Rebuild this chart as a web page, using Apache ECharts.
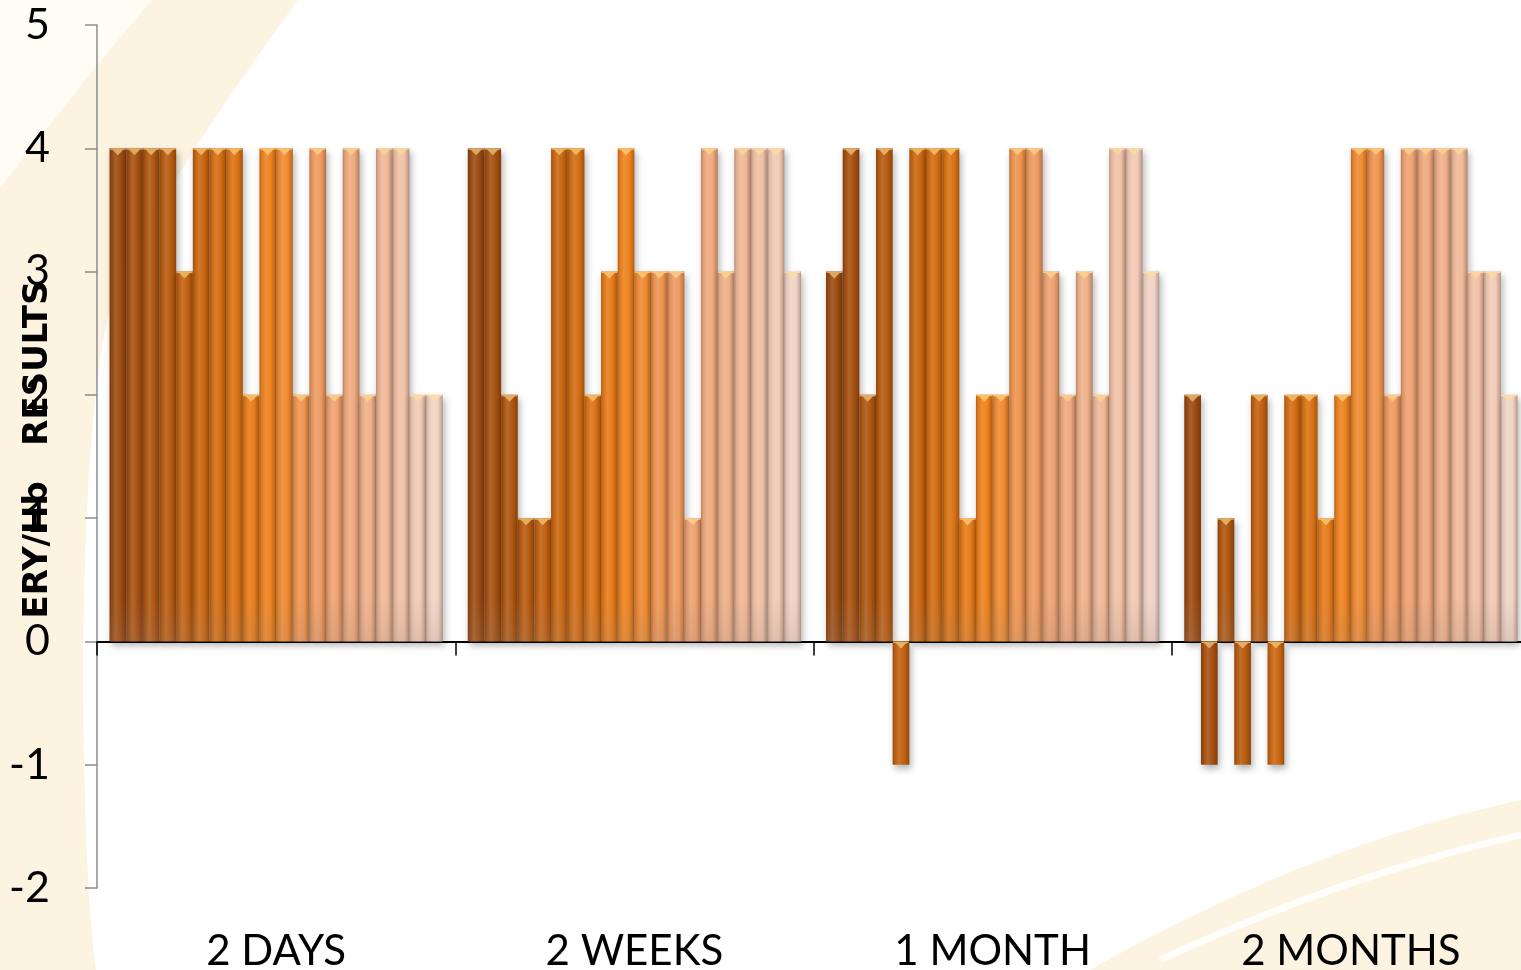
<!DOCTYPE html>
<html>
<head>
<meta charset="utf-8">
<title>ERY/Hb results</title>
<script src="https://cdn.jsdelivr.net/npm/echarts@6/dist/echarts.min.js"></script>
<style>
  html, body { margin: 0; padding: 0; background: #ffffff; }
  #chart { width: 1521px; height: 970px; }
</style>
</head>
<body>
<div id="chart"></div>
<script>
// Sampling times on the category axis
const categories = ['2 DAYS', '2 WEEKS', '1 MONTH', '2 MONTHS'];

// One score per subject (20 subjects) at each sampling time
const days2   = [4, 4, 4, 4, 3, 4, 4, 4, 2, 4, 4, 2, 4, 2, 4, 2, 4, 4, 2, 2];
const weeks2  = [4, 4, 2, 1, 1, 4, 4, 2, 3, 4, 3, 3, 3, 1, 4, 3, 4, 4, 4, 3];
const month1  = [3, 4, 2, 4, -1, 4, 4, 4, 1, 2, 2, 4, 4, 3, 2, 3, 2, 4, 4, 3];
const months2 = [2, -1, 1, -1, 2, -1, 2, 2, 1, 2, 4, 4, 2, 4, 4, 4, 4, 3, 3, 2];

// Value axis range
const yMin = -2;
const yMax = 5;
const yStep = 1;

const groups = [days2, weeks2, month1, months2];
const subjectCount = days2.length;

// Base colour of each subject's bars, dark brown through orange to pale peach
const barColors = [
  '#9a4a10', '#a44f10', '#ad5510', '#b65a10', '#c0600f',
  '#c96610', '#d26c12', '#da7214', '#e67b18', '#ee821e',
  '#ef8a30', '#ef9450', '#ee9b62', '#eea272', '#eea97f',
  '#efb18c', '#efb99a', '#f0c2a9', '#f1cbb8', '#f1d5c8'
];

function hexToRgb(h) {
  const n = parseInt(h.slice(1), 16);
  return [(n >> 16) & 255, (n >> 8) & 255, n & 255];
}
function mix(h, target, t) {
  const a = hexToRgb(h);
  const r = a.map((v, i) => Math.round(v + (target[i] - v) * t));
  return 'rgb(' + r.join(',') + ')';
}
const darken = (h, t) => mix(h, [40, 15, 0], t);
const lighten = (h, t) => mix(h, [255, 240, 215], t);

function linear(x2, y2, stops) {
  return { type: 'linear', x: 0, y: 0, x2: x2, y2: y2, colorStops: stops };
}

// Horizontal shading that gives each bar a rounded, cylindrical look
function cylinderFill(h) {
  return linear(1, 0, [
    { offset: 0, color: darken(h, 0.28) },
    { offset: 0.12, color: darken(h, 0.08) },
    { offset: 0.38, color: lighten(h, 0.14) },
    { offset: 0.7, color: h },
    { offset: 0.92, color: darken(h, 0.2) },
    { offset: 1, color: darken(h, 0.35) }
  ]);
}

const barSeries = barColors.map((c, s) => ({
  name: 'S' + (s + 1),
  type: 'bar',
  xAxisIndex: 0,
  barGap: '0%',
  barCategoryGap: '7%',
  data: groups.map(g => g[s]),
  itemStyle: {
    color: cylinderFill(c),
    shadowBlur: 7,
    shadowOffsetX: 2,
    shadowOffsetY: 4,
    shadowColor: 'rgba(0,0,0,0.3)'
  },
  z: 2
}));

// Bevelled cap and base shading drawn on top of each bar
const capData = [];
for (let s = 0; s < subjectCount; s++) {
  for (let c = 0; c < groups.length; c++) {
    capData.push([c, groups[c][s], s]);
  }
}

const capSeries = {
  type: 'custom',
  xAxisIndex: 0,
  silent: true,
  z: 4,
  data: capData,
  encode: { x: 0, y: 1 },
  renderItem: function (params, api) {
    const cat = api.value(0);
    const v = api.value(1);
    const s = api.value(2);
    const base = api.coord([cat, 0]);
    const top = api.coord([cat, Math.max(v, 0)]);
    const band = api.size([1, 0])[0];
    const gap = band * 0.07;
    const bw = (band - gap) / subjectCount;
    const x0 = base[0] - band / 2 + gap / 2 + s * bw;
    const cx = x0 + bw / 2;
    const y = top[1];
    const c = barColors[s];
    const children = [
      {
        type: 'polygon',
        shape: { points: [[x0 + 0.5, y], [x0 + bw - 0.5, y], [x0 + bw - 0.5, y + 1.5], [cx + bw * 0.32, y + 1.5], [cx, y + 7], [cx - bw * 0.32, y + 1.5], [x0 + 0.5, y + 1.5]] },
        style: { fill: mix(c, [255, 226, 150], 0.62) }
      }
    ];
    if (v > 0) {
      children.push({
        type: 'rect',
        shape: { x: x0, y: base[1] - 45, width: bw, height: 45 },
        style: {
          fill: linear(0, 1, [
            { offset: 0, color: 'rgba(150,128,118,0)' },
            { offset: 1, color: 'rgba(150,128,118,0.2)' }
          ])
        }
      });
    }
    return { type: 'group', children: children };
  }
};

// Soft backdrop swooshes, traced as sampled cubic curves
function cubic(p0, p1, p2, p3, n) {
  const pts = [];
  for (let i = 0; i <= n; i++) {
    const t = i / n, u = 1 - t;
    pts.push([
      u * u * u * p0[0] + 3 * u * u * t * p1[0] + 3 * u * t * t * p2[0] + t * t * t * p3[0],
      u * u * u * p0[1] + 3 * u * u * t * p1[1] + 3 * u * t * t * p2[1] + t * t * t * p3[1]
    ]);
  }
  return pts;
}
const cream = '#fcf3e1';
const leftSwoosh = [[0, 0]]
  .concat(cubic([298, 0], [240, 80], [160, 190], [112, 300], 24))
  .concat(cubic([112, 300], [88, 380], [80, 600], [84, 760], 24))
  .concat(cubic([84, 760], [86, 860], [90, 930], [96, 970], 12))
  .concat([[0, 970]]);
const cornerLight = [[0, 0], [152, 0]].concat(cubic([152, 0], [100, 60], [50, 125], [0, 188], 20));
const rightSwoosh = cubic([1090, 970], [1230, 890], [1380, 830], [1521, 800], 30).concat([[1521, 970]]);
const rightStripe = cubic([1160, 960], [1290, 900], [1410, 860], [1521, 835], 30);

const chart = echarts.init(document.getElementById('chart'), null, { renderer: 'canvas' });
chart.setOption({
  backgroundColor: '#ffffff',
  animation: false,
  graphic: [
    { type: 'polygon', z: -10, silent: true, shape: { points: leftSwoosh }, style: { fill: cream } },
    { type: 'polygon', z: -9, silent: true, shape: { points: cornerLight }, style: { fill: '#fffcf6' } },
    { type: 'polygon', z: -10, silent: true, shape: { points: rightSwoosh }, style: { fill: cream } },
    { type: 'polyline', z: -9, silent: true, shape: { points: rightStripe }, style: { fill: null, stroke: 'rgba(255,255,255,0.85)', lineWidth: 7 } }
  ],
  grid: { left: 97, top: 25, width: 1433, height: 863, containLabel: false, outerBoundsMode: 'none' },
  xAxis: [
    {
      type: 'category',
      data: categories,
      position: 'bottom',
      boundaryGap: true,
      axisLine: { show: true, onZero: true, lineStyle: { color: '#000000', width: 2 } },
      axisTick: { show: true, length: 14, lineStyle: { color: '#000000', width: 1.5 } },
      axisLabel: { show: false },
      splitLine: { show: false }
    },
    {
      type: 'category',
      data: categories,
      position: 'bottom',
      boundaryGap: true,
      axisLine: { show: false, onZero: false },
      axisTick: { show: false },
      axisLabel: { fontFamily: 'Lato', fontSize: 42, color: '#000000', margin: 42 },
      splitLine: { show: false }
    }
  ],
  yAxis: {
    type: 'value',
    min: yMin,
    max: yMax,
    interval: yStep,
    axisLine: { show: true, lineStyle: { color: '#8c8c8c', width: 1.5 } },
    axisTick: { show: true, length: 12, lineStyle: { color: '#8c8c8c', width: 1.5 } },
    axisLabel: { fontFamily: 'Lato', fontSize: 43, color: '#000000', margin: 47 },
    splitLine: { show: false },
    name: 'ERY/Hb   RESULTS',
    nameLocation: 'middle',
    nameRotate: 90,
    nameGap: 42,
    nameMoveOverlap: false,
    nameTextStyle: { fontFamily: 'DejaVu Sans', fontWeight: 'bold', fontSize: 34, color: '#000000', padding: [0, 0, 0, 14] }
  },
  series: barSeries.concat([capSeries])
});
</script>
</body>
</html>
